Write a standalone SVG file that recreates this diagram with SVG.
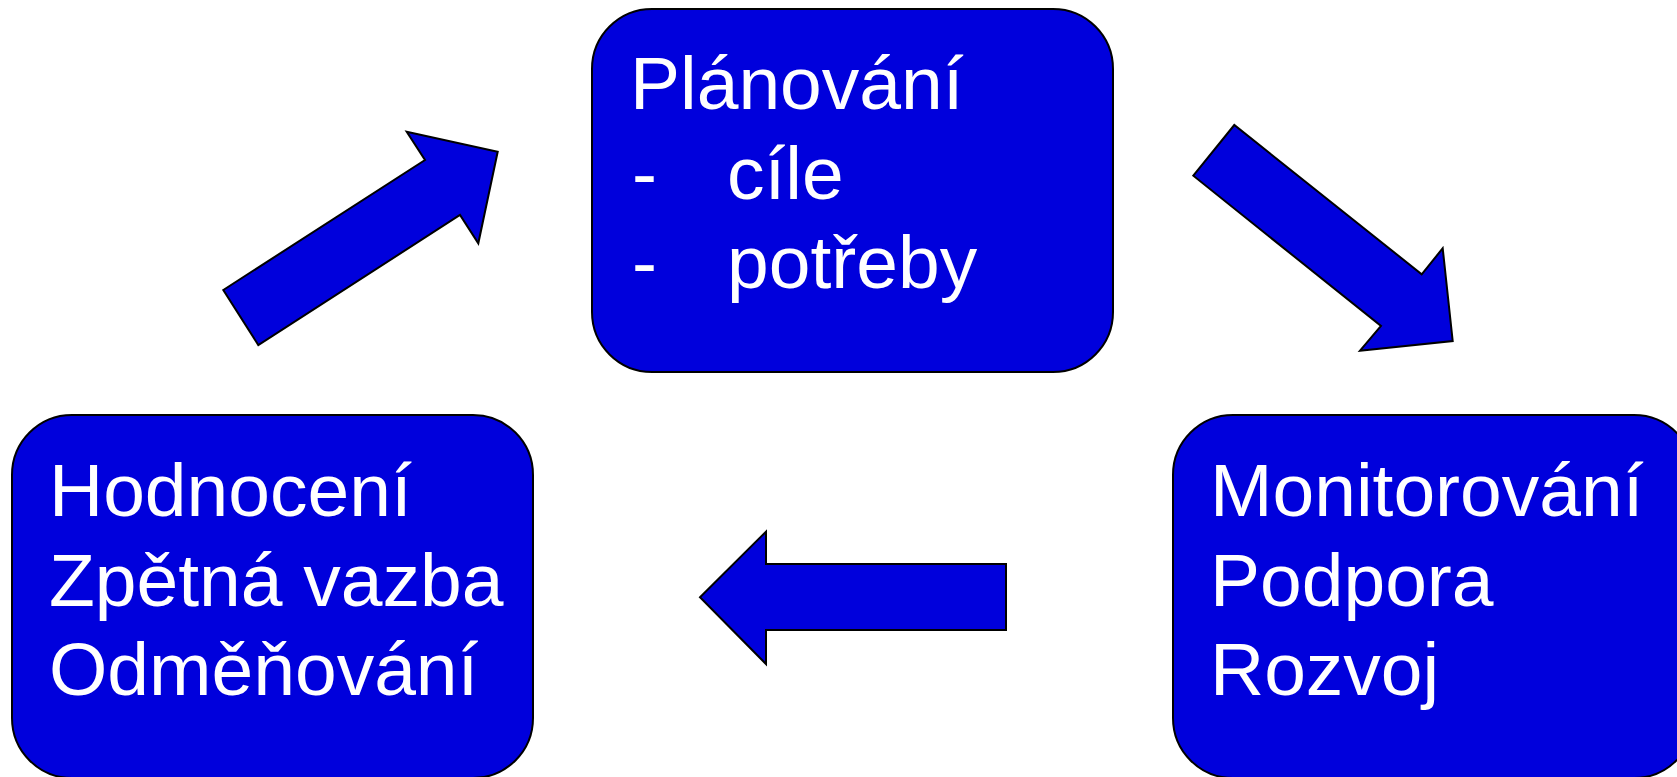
<svg xmlns="http://www.w3.org/2000/svg" width="1677" height="777" viewBox="0 0 1677 777">
<style>
.box{fill:#0000DC;stroke:#000;stroke-width:2}
.arrow{fill:#0000DC;stroke:#000;stroke-width:2;stroke-linejoin:miter}
.lbl{font-family:"Liberation Sans",Arial,sans-serif;font-size:75px;fill:#fff}
</style>
<rect width="1677" height="777" fill="#fff"/>
<g id="connectors">
<polygon id="arrow-eval-plan" class="arrow" points="223.3,290 425,160 406.7,131.7 497.7,151.7 478.3,243.3 460,215 258.3,345"/>
<polygon id="arrow-plan-monitor" class="arrow" points="1193.3,175.7 1234.3,125 1421.7,274.3 1442.7,248.3 1452.7,341 1360,350.7 1381,326"/>
<polygon id="arrow-monitor-eval" class="arrow" points="1006,564 766,564 766,531.7 700,597.3 766,664 766,630 1006,630"/>
</g>
<g id="node-planovani">
<rect class="box" x="592" y="9" width="521" height="363" rx="60" ry="60"/>
<text class="lbl" x="630" y="109">Plánování</text>
<text class="lbl" x="632" y="199">-</text>
<text class="lbl" x="727" y="199">cíle</text>
<text class="lbl" x="632" y="288">-</text>
<text class="lbl" x="727" y="288">potřeby</text>
</g>
<g id="node-hodnoceni">
<rect class="box" x="12" y="415" width="521" height="363" rx="60" ry="60"/>
<text class="lbl" x="49" y="516">Hodnocení</text>
<text class="lbl" x="49" y="606">Zpětná vazba</text>
<text class="lbl" x="49" y="695">Odměňování</text>
</g>
<g id="node-monitorovani">
<rect class="box" x="1173" y="415" width="521" height="363" rx="60" ry="60"/>
<text class="lbl" x="1210" y="516">Monitorování</text>
<text class="lbl" x="1210" y="606">Podpora</text>
<text class="lbl" x="1210" y="695">Rozvoj</text>
</g>
</svg>
